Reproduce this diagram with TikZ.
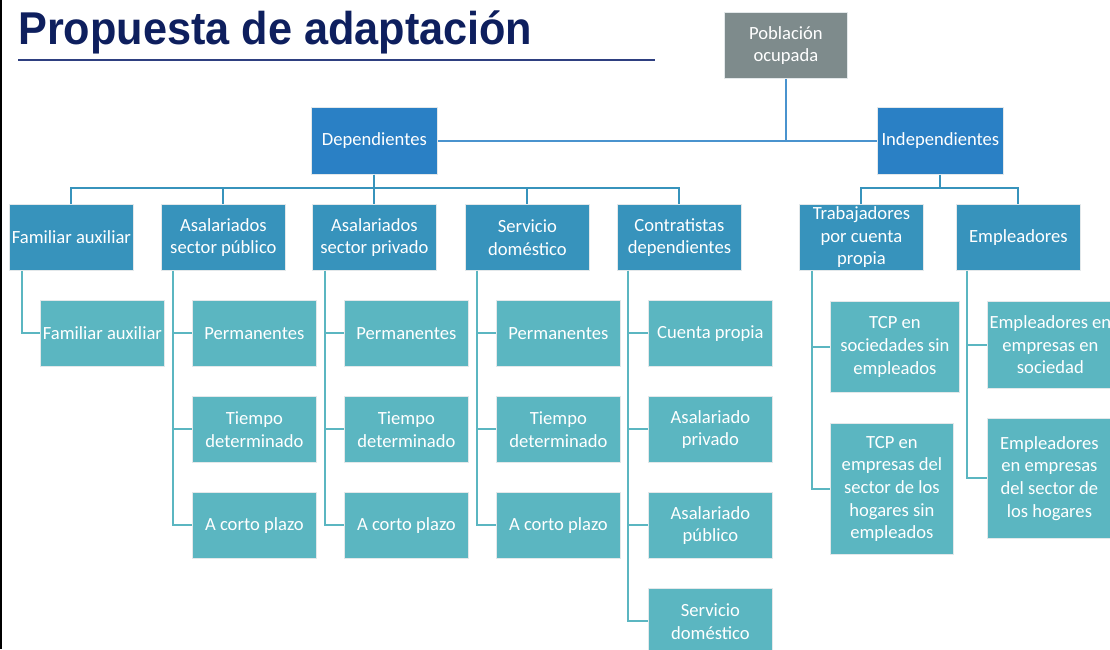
\documentclass[tikz,border=0pt]{standalone}
\usepackage{fontspec}
\setmainfont{Carlito}
\newfontfamily\titlefont{Liberation Sans}
\definecolor{titlecol}{HTML}{0E1F5E}
\definecolor{rulecol}{HTML}{2E3F80}
\definecolor{greybox}{HTML}{7E8B8C}
\definecolor{bluebox}{HTML}{2A80C5}
\definecolor{lvltwo}{HTML}{3793BC}
\definecolor{lvlthree}{HTML}{5BB6C1}
\definecolor{edgecol}{HTML}{E3E8EA}
\tikzset{
  boxbase/.style={draw=edgecol, line width=0.8pt, text=white, align=center, inner sep=0pt,
    anchor=north west, font=\fontsize{18.6}{22.6}\selectfont},
  topbox/.style={boxbase, fill=bluebox, minimum width=126pt, minimum height=67pt},
  rootbox/.style={boxbase, fill=greybox, minimum width=123pt, minimum height=66pt},
  midbox/.style={boxbase, fill=lvltwo, minimum width=124pt, minimum height=66pt},
  leafbox/.style={boxbase, fill=lvlthree, minimum width=124pt, minimum height=66pt},
  toplink/.style={draw=bluebox!85!white, line width=2pt},
  midlink/.style={draw=lvltwo, line width=2pt},
  leaflink/.style={draw=lvlthree, line width=2pt},
}
\begin{document}
\begin{tikzpicture}[x=1pt,y=1pt]
\useasboundingbox (0,0) rectangle (1110,-649);
\clip (0,0) rectangle (1110,-649);
\fill[white] (0,0) rectangle (1110,-649);
\fill[black] (0,0) rectangle (2,-649);
% title
\node[anchor=base west, inner sep=0pt, text=titlecol] (title) at (18,-44)
  {\titlefont\bfseries\fontsize{46}{50}\selectfont\scalebox{0.94}[1]{Propuesta de adaptación}};
\draw[rulecol, line width=2pt] (18,-60) coordinate (ra) -- (655,-60) coordinate (rb);
% top levels
\node[rootbox] (pob) at (724,-12) {Población\\ocupada};
\node[topbox] (dep) at (311,-107) {Dependientes};
\node[topbox] (ind) at (877,-107) {Independientes};
% level two
\node[midbox] (fa) at (9,-204) {Familiar auxiliar};
\node[midbox] (asp) at (161,-204) {Asalariados\\sector público};
\node[midbox] (apr) at (312,-204) {Asalariados\\sector privado};
\node[midbox] (sd) at (465,-204) {Servicio\\doméstico};
\node[midbox] (cd) at (617,-204) {Contratistas\\dependientes};
\node[midbox] (tcp) at (799,-204) {Trabajadores\\por cuenta\\propia};
\node[midbox] (emp) at (956,-204) {Empleadores};
% level three
\node[leafbox] (fa1) at (40,-300) {Familiar auxiliar};
\node[leafbox] (asp1) at (192,-300) {Permanentes};
\node[leafbox] (asp2) at (192,-396) {Tiempo\\determinado};
\node[leafbox] (asp3) at (192,-492) {A corto plazo};
\node[leafbox] (apr1) at (344,-300) {Permanentes};
\node[leafbox] (apr2) at (344,-396) {Tiempo\\determinado};
\node[leafbox] (apr3) at (344,-492) {A corto plazo};
\node[leafbox] (sd1) at (496,-300) {Permanentes};
\node[leafbox] (sd2) at (496,-396) {Tiempo\\determinado};
\node[leafbox] (sd3) at (496,-492) {A corto plazo};
\node[leafbox] (cd1) at (648,-300) {Cuenta propia};
\node[leafbox] (cd2) at (648,-396) {Asalariado\\privado};
\node[leafbox] (cd3) at (648,-492) {Asalariado\\público};
\node[leafbox] (cd4) at (648,-588) {Servicio\\doméstico};
\node[leafbox, minimum width=129pt, minimum height=91pt] (tcp1) at (830,-301) {TCP en\\sociedades sin\\empleados};
\node[leafbox, minimum width=123pt, minimum height=131pt] (tcp2) at (830,-423) {TCP en\\empresas del\\sector de los\\hogares sin\\empleados};
\node[leafbox, minimum width=126pt, minimum height=87pt] (emp1) at (987,-301) {Empleadores en\\empresas en\\sociedad};
\node[leafbox, minimum width=124pt, minimum height=120pt] (emp2) at (987,-418) {Empleadores\\en empresas\\del sector de\\los hogares};
% top connectors
\draw[toplink] (pob.south) -- (pob.south |- dep.east);
\draw[toplink] (dep.east) -- (ind.west);
% level two connectors
\foreach \c in {fa,asp,apr,sd,cd} \draw[midlink] (dep.south) -- ++(0,-13) -| (\c.north);
\foreach \c in {tcp,emp} \draw[midlink] (ind.south) -- ++(0,-13) -| (\c.north);
% level three connectors
\draw[leaflink] ([xshift=13pt]fa.south west) |- (fa1.west);
\foreach \c in {asp1,asp2,asp3} \draw[leaflink] ([xshift=12pt]asp.south west) |- (\c.west);
\foreach \c in {apr1,apr2,apr3} \draw[leaflink] ([xshift=13pt]apr.south west) |- (\c.west);
\foreach \c in {sd1,sd2,sd3} \draw[leaflink] ([xshift=12pt]sd.south west) |- (\c.west);
\foreach \c in {cd1,cd2,cd3,cd4} \draw[leaflink] ([xshift=11pt]cd.south west) |- (\c.west);
\foreach \c in {tcp1,tcp2} \draw[leaflink] ([xshift=13pt]tcp.south west) |- (\c.west);
\foreach \c in {emp1,emp2} \draw[leaflink] ([xshift=11pt]emp.south west) |- (\c.west);
\end{tikzpicture}
\end{document}
